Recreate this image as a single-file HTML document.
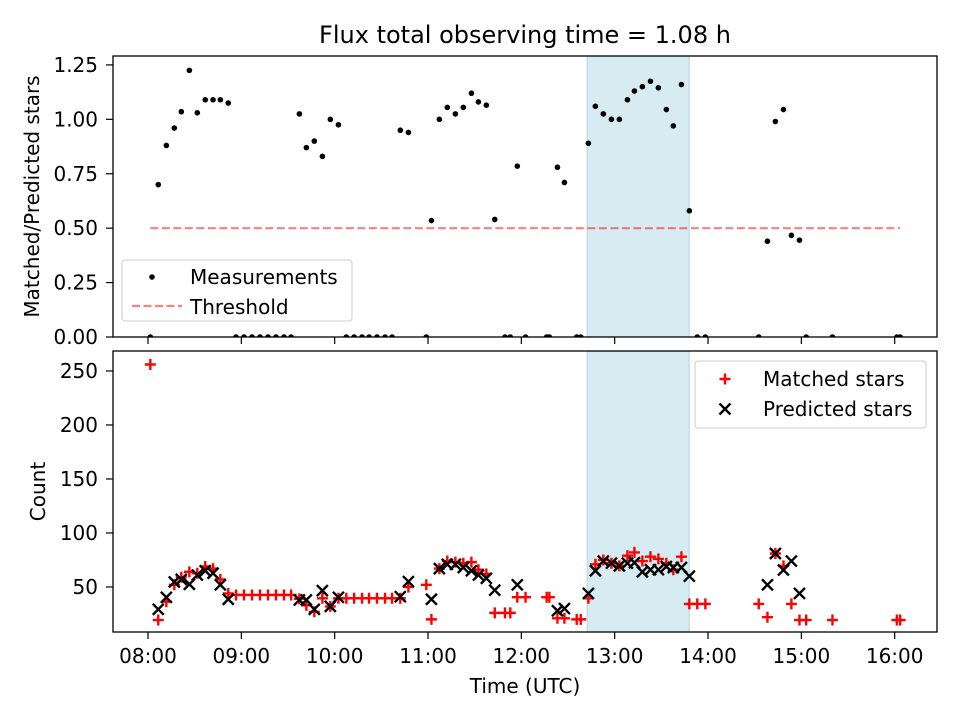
<!DOCTYPE html>
<html><head><meta charset="utf-8">
<style>
html,body{margin:0;padding:0;background:#fff;}
svg{display:block;font-family:"DejaVu Sans","Liberation Sans",sans-serif;}
</style></head>
<body>
<svg id="chart" width="960" height="720" viewBox="0 0 960 720" xmlns="http://www.w3.org/2000/svg">
<rect width="960" height="720" fill="#fff"/>
<text x="525" y="43" font-size="24" text-anchor="middle">Flux total observing time = 1.08 h</text>
<g id="top"></g>
<g id="bot"></g>
</svg>
<script>
// minutes since 08:00
const times = [1.5,6.6,11.8,16.9,21.4,26.6,31.7,36.8,41.8,46.5,51.6,56.6,61.7,66.9,72,77.2,82.3,87.4,92,97.3,101.8,106.9,112.1,117.2,122.4,127.5,132.5,137.6,142.1,147.2,152.4,156.9,162.2,167.4,178.9,182.2,187.3,192.4,197.6,202.7,207.9,212.4,217.5,222.9,229.5,232.9,237.4,242.7,256.3,258,263.2,267.7,275.6,278.2,283.1,287.6,292.7,297.9,303,308.2,312.7,317.8,323,328.1,333.2,337.7,342.9,348,353.1,358.3,392.6,398.2,403.3,408.5,413.6,418.8,423.1,440,481.4,483.5];
const ratio = [0,0.70,0.88,0.96,1.035,1.225,1.03,1.09,1.09,1.09,1.075,0,0,0,0,0,0,0,0,1.025,0.87,0.90,0.83,1.0,0.975,0,0,0,0,0,0,0,0.95,0.94,0,0.535,1.0,1.055,1.025,1.055,1.12,1.08,1.065,0.54,0,0,0.785,0,0,0,0.78,0.71,0,0,0.89,1.06,1.025,1.0,1.0,1.09,1.13,1.15,1.175,1.145,1.045,0.97,1.16,0.58,0,0,0,0.44,0.99,1.045,0.467,0.445,0,0,0,0];
const matched = [256,19.4,36.4,52,59,64,62.7,69,67,57,44,42.6,42.6,42.6,42.6,42.6,42.6,42.6,42.6,39,33,27,39.5,32,39.5,39.5,39.5,39.5,39.5,39.5,39.5,39.5,39.5,50,52,20,67,74,73,72,73,66,62,26,26,26,40.5,40.5,40.5,40.5,21,21,20,20,39.5,71,75,72,69.5,79,82,74,78,76,72,66,78,34.3,34.3,34.3,34.3,22,81,69.5,34.3,19.4,19.4,19.4,19.4,19.4];
const predicted = [null,29.3,40.4,54.6,57,52.5,61,65,62.7,52,38.6,null,null,null,null,null,null,null,null,38,38,29.3,46.6,32,40.4,null,null,null,null,null,null,null,41,55,null,38.6,67,71,71,68,65,61,58,47,null,null,52,null,null,null,28,30,null,null,44,65,74,72,69.5,72,72.5,64,66,66,69,68,68,60,null,null,null,52,81,65.7,74,44,null,null,null,null];
const threshold = 0.5;
const spanStart = 282.3, spanEnd = 347.9;
const xTickVals = [0,60,120,180,240,300,360,420,480];
const xTickLabels = ["08:00","09:00","10:00","11:00","12:00","13:00","14:00","15:00","16:00"];
const topTicks = [0,0.25,0.5,0.75,1.0,1.25];
const botTicks = [50,100,150,200,250];

const NS="http://www.w3.org/2000/svg";
const L=113,R=937;
const FS=20;
const xmin=-22.5,xmax=507.2;
const X=v=>L+(v-xmin)/(xmax-xmin)*(R-L);
const T={top:56,bot:337,min:0,max:1.291};
const B={top:351,bot:632,min:8.3,max:268.5};
const Yt=v=>T.bot-(v-T.min)/(T.max-T.min)*(T.bot-T.top);
const Yb=v=>B.bot-(v-B.min)/(B.max-B.min)*(B.bot-B.top);
function mk(tag,attrs,parent,text){const e=document.createElementNS(NS,tag);for(const k in attrs)e.setAttribute(k,attrs[k]);if(text!==undefined)e.textContent=text;parent.appendChild(e);return e;}
const gt=document.getElementById('top'), gb=document.getElementById('bot');

let s=mk('rect',{x:X(spanStart),y:T.top,width:X(spanEnd)-X(spanStart),height:T.bot-T.top,fill:'#add8e6','fill-opacity':0.5,stroke:'#add8e6','stroke-width':1},gt);


s=mk('rect',{x:X(spanStart),y:B.top,width:X(spanEnd)-X(spanStart),height:B.bot-B.top,fill:'#add8e6','fill-opacity':0.5,stroke:'#add8e6','stroke-width':1},gb);



let th=mk('line',{x1:X(times[0]),x2:X(times[times.length-1]),y1:Yt(threshold),y2:Yt(threshold),stroke:'#ff0000','stroke-opacity':0.5,'stroke-width':2.2,'stroke-dasharray':'8,3.5'},gt);



const clipT=mk('clipPath',{id:'ct'},gt);mk('rect',{x:L,y:T.top-4,width:R-L,height:T.bot-T.top+4},clipT);
const ptsG=mk('g',{'clip-path':'url(#ct)'},gt);
times.forEach((t,i)=>{
  const c=mk('circle',{cx:X(t),cy:Yt(ratio[i]),r:2.8,fill:'#000'},ptsG);
  
  
});

const clipB=mk('clipPath',{id:'cb'},gb);mk('rect',{x:L,y:B.top,width:R-L,height:B.bot-B.top},clipB);
const mG=mk('g',{'clip-path':'url(#cb)'},gb);
function plus(x,y,g){return mk('path',{d:`M${x-5.5},${y}H${x+5.5}M${x},${y-5.5}V${y+5.5}`,stroke:'#ff0000','stroke-width':2.4},g);}
function cross(x,y,g){return mk('path',{d:`M${x-5.5},${y-5.5}L${x+5.5},${y+5.5}M${x-5.5},${y+5.5}L${x+5.5},${y-5.5}`,stroke:'#000','stroke-width':2.4},g);}
times.forEach((t,i)=>{
  if(matched[i]!==null){const p=plus(X(t),Yb(matched[i]),mG);
  
  }
});
times.forEach((t,i)=>{
  if(predicted[i]!==null){const p=cross(X(t),Yb(predicted[i]),mG);
  
  }
});

function frame(g,A,yf,ticks,fmt,name){
  const f=mk('rect',{x:L,y:A.top,width:R-L,height:A.bot-A.top,fill:'none',stroke:'#000','stroke-width':1.3},g);
  
  
  ticks.forEach(v=>{const y=yf(v);
    mk('line',{x1:L-7,x2:L,y1:y,y2:y,stroke:'#000','stroke-width':1.2},g);
    const t=mk('text',{x:L-15,y:y+7,'font-size':FS,'text-anchor':'end'},g,fmt(v));
    
    
  });
  xTickVals.forEach(v=>{mk('line',{x1:X(v),x2:X(v),y1:A.bot,y2:A.bot+7,stroke:'#000','stroke-width':1.2},g);});
}
frame(gt,T,Yt,topTicks,v=>v.toFixed(2),'top');
frame(gb,B,Yb,botTicks,v=>String(v),'bottom');
xTickVals.forEach((v,i)=>{
  const t=mk('text',{x:X(v),y:663,'font-size':FS,'text-anchor':'middle'},gb,xTickLabels[i]);
  
  
});
let t=mk('text',{x:525,y:693,'font-size':FS,'text-anchor':'middle'},gb,'Time (UTC)');


t=mk('text',{x:0,y:0,'font-size':FS,'text-anchor':'middle',transform:`translate(39,${(T.top+T.bot)/2}) rotate(-90)`},gt,'Matched/Predicted stars');


t=mk('text',{x:0,y:0,'font-size':FS,'text-anchor':'middle',transform:`translate(45,${(B.top+B.bot)/2}) rotate(-90)`},gb,'Count');



let lg=mk('g',{},gt);


mk('rect',{x:122,y:260,width:230,height:61,rx:3,fill:'#fff','fill-opacity':0.8,stroke:'#ccc'},lg);
mk('circle',{cx:152,cy:277,r:2.8,fill:'#000'},lg);
mk('text',{x:190,y:284,'font-size':FS},lg,'Measurements');
mk('line',{x1:132,x2:182,y1:306,y2:306,stroke:'#ff0000','stroke-opacity':0.5,'stroke-width':2.2,'stroke-dasharray':'8,3.5'},lg);
mk('text',{x:190,y:314,'font-size':FS},lg,'Threshold');
lg=mk('g',{},gb);


mk('rect',{x:695,y:361,width:231,height:67,rx:3,fill:'#fff','fill-opacity':0.8,stroke:'#ccc'},lg);
plus(725,379,lg);
mk('text',{x:763,y:386,'font-size':FS},lg,'Matched stars');
cross(725,409,lg);
mk('text',{x:763,y:416,'font-size':FS},lg,'Predicted stars');
</script>
</body></html>
